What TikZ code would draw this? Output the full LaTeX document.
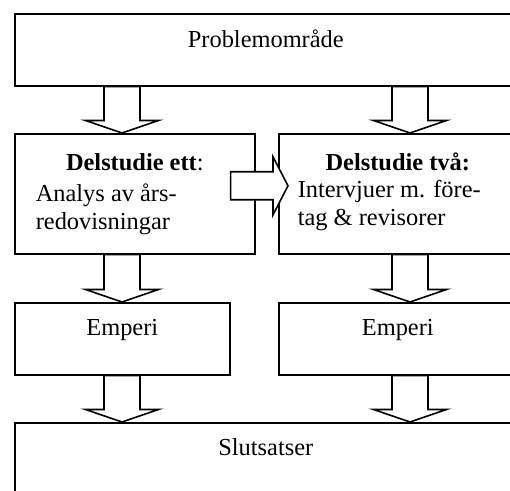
\documentclass[tikz,border=0pt]{standalone}
\usepackage{fontspec}
\setmainfont{Liberation Serif}
\usetikzlibrary{calc, positioning}

\begin{document}
\begin{tikzpicture}[x=0.5pt, y=-0.5pt, line width=0.8pt,
  box/.style={draw, rectangle, inner sep=0pt, anchor=north west},
  txt/.style={inner sep=0pt, font=\fontsize{12.2}{14}\selectfont},
  fatdown/.style={draw, fill=white,
    to path={let \p1=(\tikztostart), \p2=(\tikztotarget) in
      (\x1-9pt,\y1) -- (\x1-9pt,\y2+6.25pt) -- (\x1-18.25pt,\y2+6.25pt) -- (\x1,\y2)
      -- (\x1+18.25pt,\y2+6.25pt) -- (\x1+9pt,\y2+6.25pt) -- (\x1+9pt,\y1) -- cycle}},
  fatright/.style={draw, fill=white,
    to path={let \p1=(\tikztostart), \p2=(\tikztotarget) in
      (\x1,\y1+7pt) -- (\x2-7.5pt,\y1+7pt) -- (\x2-7.5pt,\y1+14.5pt) -- (\x2,\y1)
      -- (\x2-7.5pt,\y1-14.5pt) -- (\x2-7.5pt,\y1-7pt) -- (\x1,\y1-7pt) -- cycle}}]
  \useasboundingbox (0,0) rectangle (510,491);
  \clip (0,0) rectangle (510,491);

  % boxes
  \node[box, minimum width=251pt, minimum height=36pt] (prob) at (14,13) {};
  \node[box, minimum width=120pt, minimum height=60pt] (ett) at (14,133) {};
  \node[box, minimum width=119pt, minimum height=60pt] (tva) at (278,133) {};
  \node[box, minimum width=107.5pt, minimum height=36pt] (empL) at (14,302) {};
  \node[box, minimum width=119pt, minimum height=36pt] (empR) at (278,302) {};
  \node[box, minimum width=251pt, minimum height=49pt] (slut) at (14,422) {};

  % texts
  \node[txt, anchor=base] (probtxt) at ([yshift=-17.5pt]prob.north) {Problemområde};
  \node[txt, anchor=base] (etttitle) at ([yshift=-19pt]ett.north) {\textbf{Delstudie ett}:};
  \node[txt, anchor=base west] (ettA) at ([shift={(10.5pt,-34.5pt)}]ett.north west) {Analys av års-};
  \node[txt, anchor=base west] (ettB) at ([shift={(10.5pt,-48.5pt)}]ett.north west) {redovisningar};
  \node[txt, anchor=base] (tvatitle) at ([yshift=-19pt]tva.north) {\textbf{Delstudie två:}};
  \node[txt, anchor=base west] (tvaA) at ([shift={(9.5pt,-32.5pt)}]tva.north west) {Intervjuer m. före-};
  \node[txt, anchor=base west] (tvaB) at ([shift={(9.5pt,-46.5pt)}]tva.north west) {tag \& revisorer};
  \node[txt, anchor=base] (empLtxt) at ([yshift=-17pt]empL.north) {Emperi};
  \node[txt, anchor=base] (empRtxt) at ([yshift=-17pt]empR.north) {Emperi};
  \node[txt, anchor=base] (sluttxt) at ([yshift=-17pt]slut.north) {Slutsatser};

  % block arrows
  \coordinate (colL) at (122,0);
  \coordinate (colR) at (410,0);
  \draw[fatdown] (prob.south -| colL) to (ett.north -| colL);
  \draw[fatdown] (prob.south -| colR) to (tva.north -| colR);
  \draw[fatdown] (ett.south -| colL) to (empL.north -| colL);
  \draw[fatdown] (tva.south -| colR) to (empR.north -| colR);
  \draw[fatdown] (empL.south -| colL) to (slut.north -| colL);
  \draw[fatdown] (empR.south -| colR) to (slut.north -| colR);
  \draw[fatright] ([shift={(-12.5pt,4pt)}]ett.east) to ([shift={(5pt,4pt)}]tva.west);
\end{tikzpicture}
\end{document}
